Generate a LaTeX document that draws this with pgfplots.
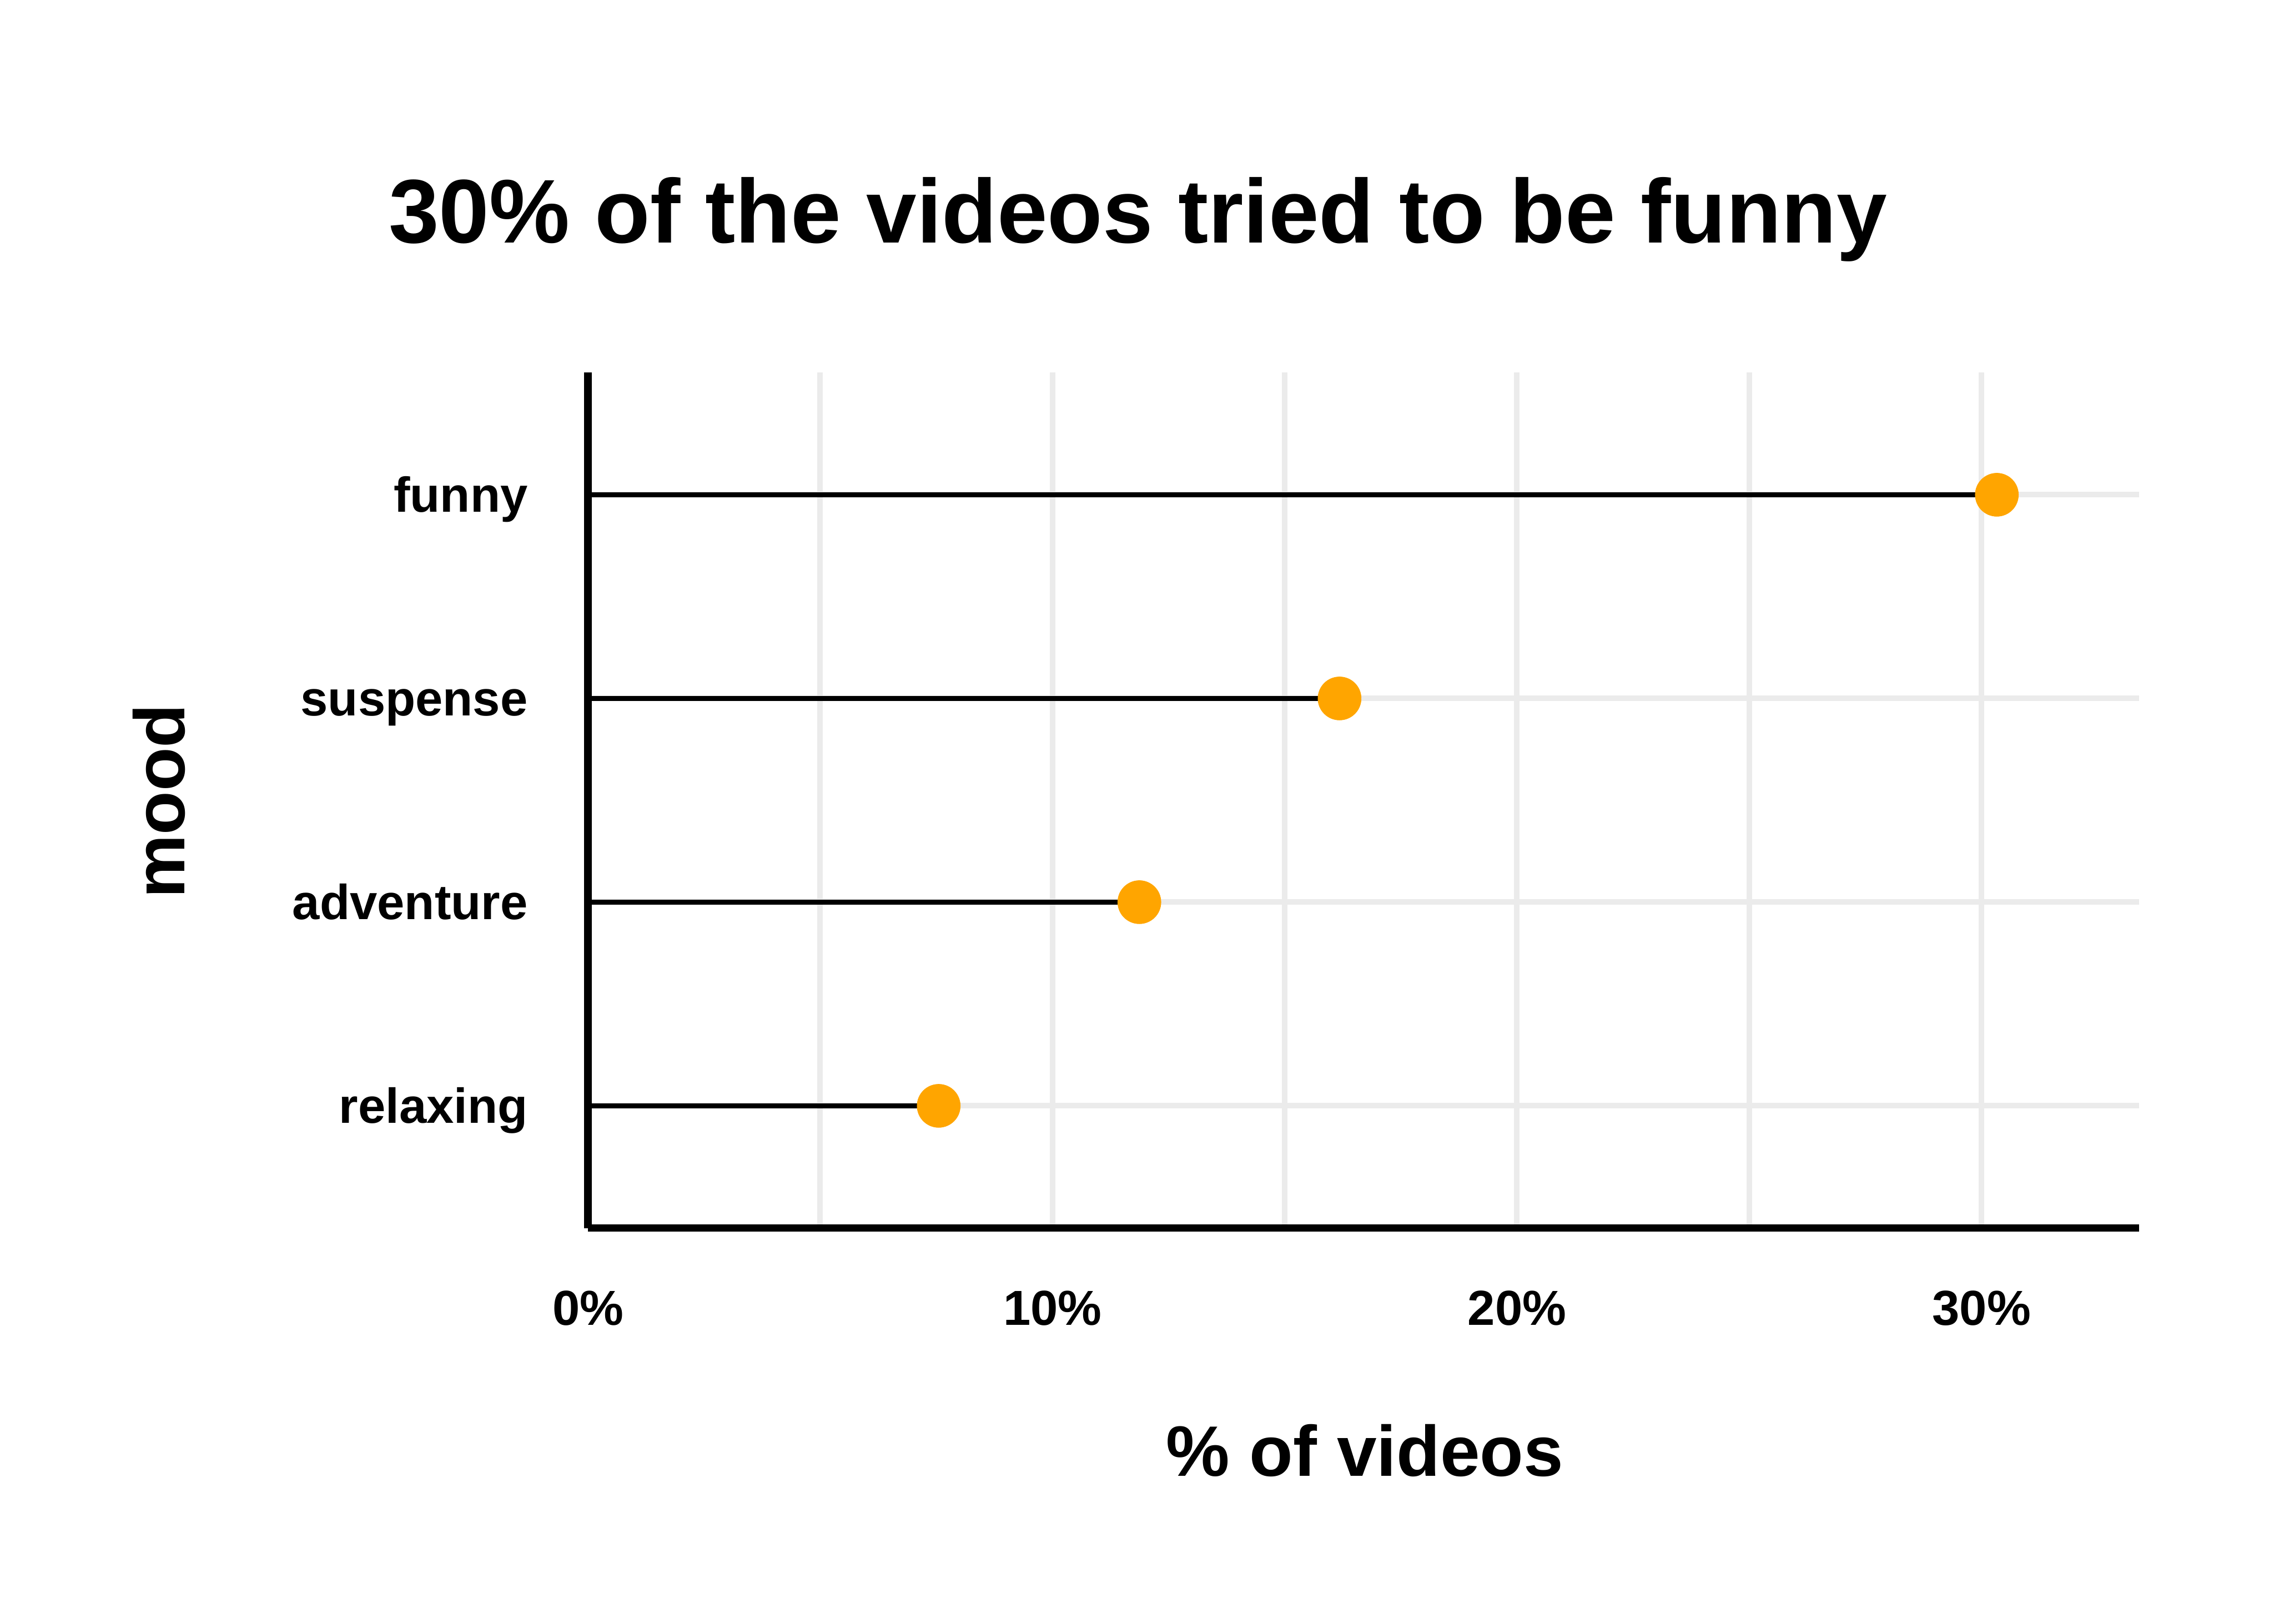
\documentclass[border=0pt]{standalone}
\usepackage{fontspec}
\setmainfont{Liberation Sans}
\usepackage{pgfplots}
\pgfplotsset{compat=1.18}
\definecolor{dot}{HTML}{FFA500}
\definecolor{gridc}{HTML}{EBEBEB}
\begin{document}
\begin{tikzpicture}
\useasboundingbox (0,0) rectangle (490pt,350pt);
\begin{axis}[
  at={(126.7pt,85.3pt)}, anchor=south west,
  scale only axis, width=334.2pt, height=184.4pt,
  xmin=0, xmax=33.39, ymin=0.4, ymax=4.6,
  axis x line*=bottom, axis y line*=left,
  axis line style={line width=1.6pt, black, -},
  xtick={0,10,20,30}, xticklabels={0\%,10\%,20\%,30\%},
  minor xtick={5,15,25},
  ytick={1,2,3,4}, yticklabels={relaxing,adventure,suspense,funny},
  major tick length=0pt, minor tick length=0pt,
  grid=both,
  major grid style={gridc, line width=1.2pt},
  minor grid style={gridc, line width=1.2pt},
  ticklabel style={font=\fontsize{10.6}{12}\selectfont\bfseries, inner sep=0pt},
  xticklabel style={anchor=base, yshift=-20.9pt},
  yticklabel style={anchor=base east, xshift=-12.8pt, yshift=-3.7pt},
]
\addplot[xcomb, black, line width=1pt] coordinates {(30.33,4) (16.18,3) (11.87,2) (7.55,1)};
\addplot[only marks, color=dot, mark=*, mark size=4.65pt, mark options={fill=dot, draw=dot, line width=0.1pt}] coordinates {(30.33,4) (16.18,3) (11.87,2) (7.55,1)};
\end{axis}
\node[anchor=base, font=\fontsize{19.5}{23}\selectfont\bfseries, inner sep=0pt] at (245.2pt,297.7pt) {30\% of the videos tried to be funny};
\node[anchor=base, font=\fontsize{15.4}{18}\selectfont\bfseries, inner sep=0pt] at (294.1pt,31.9pt) {\% of videos};
\node[rotate=90, anchor=base, font=\fontsize{15.4}{18}\selectfont\bfseries, inner sep=0pt] at (39.8pt,177.3pt) {mood};
\end{tikzpicture}
\end{document}
